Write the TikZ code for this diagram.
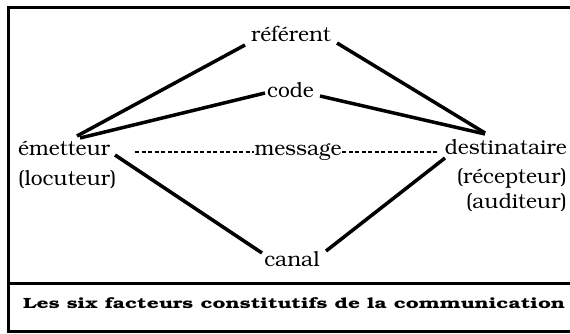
\documentclass[tikz,border=0pt]{standalone}
\usepackage[T1]{fontenc}
\usepackage{bookman}
\usepackage{graphicx}
\begin{document}
\begin{tikzpicture}[x=1pt,y=-1pt,
  lbl/.style={inner sep=0pt,font=\fontsize{21}{25}\selectfont},
  link/.style={line width=3.5pt},
  dotlink/.style={line width=1.5pt,dash pattern=on 4pt off 2.5pt},
  frame/.style={line width=3pt}]
\useasboundingbox (0,0) rectangle (570,333);
% frame
\draw[frame] (570,7) -- (8,7) -- (8,331) -- (570,331);
\draw[frame] (8,283) -- (570,283);
% nodes
\node[lbl,anchor=base] (referent) at (291,41) {référent};
\node[lbl,anchor=base] (code) at (290.5,97) {code};
\node[lbl,anchor=base west] (emetteur) at (18,155) {émetteur};
\node[lbl,anchor=base] (message) at (298,155) {message};
\node[lbl,anchor=base east] (destinataire) at (567,154) {destinataire};
\node[lbl,anchor=base west] (locuteur) at (18,185) {(locuteur)};
\node[lbl,anchor=base east] (recepteur) at (567,183) {(récepteur)};
\node[lbl,anchor=base east] (auditeur) at (567,208) {(auditeur)};
\node[lbl,anchor=base] (canal) at (292,266) {canal};
\node[inner sep=0pt,anchor=base west] (caption) at (23,308)
  {\resizebox{542pt}{11pt}{\bfseries Les six facteurs constitutifs de la communication}};
% connectors
\draw[link] ([shift={(59,-19)}]emetteur.base west) -- ([shift={(-46,4)}]referent.base);
\draw[link] ([shift={(62,-17)}]emetteur.base west) -- ([shift={(-25.5,-4)}]code.base);
\draw[link] ([shift={(46,2)}]referent.base) -- ([shift={(-82,-21)}]destinataire.base east);
\draw[link] ([shift={(29.5,-1)}]code.base) -- ([shift={(-82,-20)}]destinataire.base east);
\draw[link] ([shift={(97,0)}]emetteur.base west) -- ([shift={(-30,-13)}]canal.base);
\draw[link] ([shift={(-122,4)}]destinataire.base east) -- ([shift={(34,-15)}]canal.base);
\draw[dotlink] ([shift={(117,-3)}]emetteur.base west) -- ([shift={(-44,-3)}]message.base);
\draw[dotlink] ([shift={(44,-3)}]message.base) -- ([shift={(-129,-2)}]destinataire.base east);
\end{tikzpicture}
\end{document}
